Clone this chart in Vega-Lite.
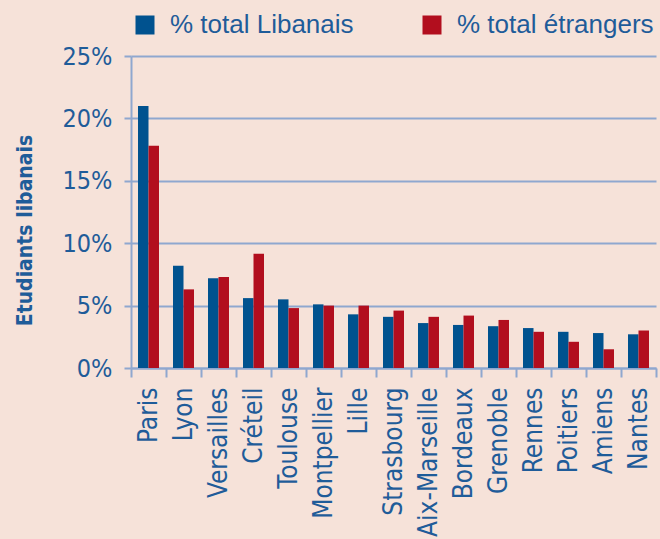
{
  "$schema": "https://vega.github.io/schema/vega-lite/v6.json",
  "width": 525,
  "height": 312,
  "autosize": {"type": "none"},
  "padding": {"left": 131, "top": 56, "right": 4, "bottom": 171},
  "background": "#F6E2D9",
  "config": {
    "view": {"stroke": null},
    "font": "Liberation Sans"
  },
  "data": {
    "values": [
      {"ville": "Paris", "serie": "% total Libanais", "pct": 21.0},
      {"ville": "Paris", "serie": "% total étrangers", "pct": 17.8},
      {"ville": "Lyon", "serie": "% total Libanais", "pct": 8.2},
      {"ville": "Lyon", "serie": "% total étrangers", "pct": 6.3},
      {"ville": "Versailles", "serie": "% total Libanais", "pct": 7.2},
      {"ville": "Versailles", "serie": "% total étrangers", "pct": 7.3},
      {"ville": "Créteil", "serie": "% total Libanais", "pct": 5.6},
      {"ville": "Créteil", "serie": "% total étrangers", "pct": 9.15},
      {"ville": "Toulouse", "serie": "% total Libanais", "pct": 5.5},
      {"ville": "Toulouse", "serie": "% total étrangers", "pct": 4.8},
      {"ville": "Montpellier", "serie": "% total Libanais", "pct": 5.1},
      {"ville": "Montpellier", "serie": "% total étrangers", "pct": 5.0},
      {"ville": "Lille", "serie": "% total Libanais", "pct": 4.3},
      {"ville": "Lille", "serie": "% total étrangers", "pct": 5.0},
      {"ville": "Strasbourg", "serie": "% total Libanais", "pct": 4.1},
      {"ville": "Strasbourg", "serie": "% total étrangers", "pct": 4.6},
      {"ville": "Aix-Marseille", "serie": "% total Libanais", "pct": 3.6},
      {"ville": "Aix-Marseille", "serie": "% total étrangers", "pct": 4.1},
      {"ville": "Bordeaux", "serie": "% total Libanais", "pct": 3.45},
      {"ville": "Bordeaux", "serie": "% total étrangers", "pct": 4.2},
      {"ville": "Grenoble", "serie": "% total Libanais", "pct": 3.35},
      {"ville": "Grenoble", "serie": "% total étrangers", "pct": 3.85},
      {"ville": "Rennes", "serie": "% total Libanais", "pct": 3.2},
      {"ville": "Rennes", "serie": "% total étrangers", "pct": 2.9},
      {"ville": "Poitiers", "serie": "% total Libanais", "pct": 2.9},
      {"ville": "Poitiers", "serie": "% total étrangers", "pct": 2.1},
      {"ville": "Amiens", "serie": "% total Libanais", "pct": 2.8},
      {"ville": "Amiens", "serie": "% total étrangers", "pct": 1.5},
      {"ville": "Nantes", "serie": "% total Libanais", "pct": 2.7},
      {"ville": "Nantes", "serie": "% total étrangers", "pct": 3.0}
    ]
  },
  "mark": {"type": "bar"},
  "encoding": {
    "x": {
      "field": "ville",
      "type": "nominal",
      "sort": null,
      "scale": {"paddingInner": 0, "paddingOuter": 0},
      "axis": {
        "title": null,
        "labelAngle": -90,
        "labelAlign": "right",
        "labelBaseline": "middle",
        "labelFont": "DejaVu Sans Condensed",
        "labelFontSize": 26,
        "labelColor": "#1F5C99",
        "labelPadding": 10,
        "labelLimit": 300,
        "tickSize": 9,
        "tickWidth": 2,
        "tickColor": "#8FA7CF",
        "tickBand": "extent",
        "domainColor": "#8FA7CF",
        "domainWidth": 2,
        "grid": false
      }
    },
    "xOffset": {
      "field": "serie",
      "type": "nominal",
      "sort": ["% total Libanais", "% total étrangers"],
      "scale": {"paddingInner": 0, "paddingOuter": 0.667}
    },
    "y": {
      "field": "pct",
      "type": "quantitative",
      "scale": {"domain": [0, 25], "nice": false},
      "axis": {
        "title": "Etudiants libanais",
        "titleFont": "DejaVu Sans Condensed",
        "titleFontWeight": "bold",
        "titleFontSize": 21,
        "titleColor": "#1F5C99",
        "titlePadding": 27,
        "titleY": 174,
        "values": [0, 5, 10, 15, 20, 25],
        "labelExpr": "datum.value + '%'",
        "labelFont": "DejaVu Sans Condensed",
        "labelFontSize": 25,
        "labelColor": "#1F5C99",
        "labelPadding": 12,
        "tickSize": 7,
        "tickWidth": 2,
        "tickColor": "#8FA7CF",
        "domainColor": "#8FA7CF",
        "domainWidth": 2,
        "grid": true,
        "gridColor": "#8FA7CF",
        "gridWidth": 2
      }
    },
    "color": {
      "field": "serie",
      "type": "nominal",
      "sort": ["% total Libanais", "% total étrangers"],
      "scale": {"domain": ["% total Libanais", "% total étrangers"], "range": ["#00528F", "#B20E1E"]},
      "legend": {
        "title": null,
        "orient": "none",
        "direction": "horizontal",
        "legendX": 1,
        "legendY": -44,
        "symbolType": "square",
        "symbolSize": 361,
        "symbolStrokeWidth": 0,
        "labelFontSize": 26,
        "labelColor": "#1F5C99",
        "labelOffset": 12,
        "labelLimit": 400,
        "columnPadding": 65
      }
    }
  }
}
